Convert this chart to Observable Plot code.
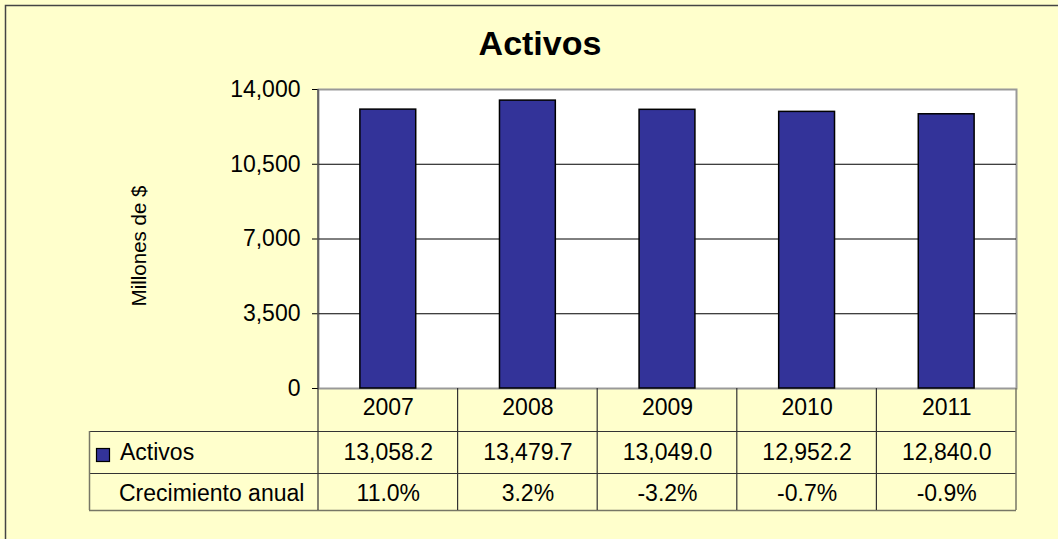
<!DOCTYPE html>
<html><head><meta charset="utf-8">
<script src="https://cdn.jsdelivr.net/npm/d3@7"></script>
<script src="https://cdn.jsdelivr.net/npm/@observablehq/plot@0.6"></script>
<style>
html,body{margin:0;padding:0;background:#FFFFCC;}
#chart{position:relative;width:1058px;height:539px;overflow:hidden;}
</style></head><body><div id="chart"></div>
<script>
const years = ["2007", "2008", "2009", "2010", "2011"];
const activos = [13058.2, 13479.7, 13049.0, 12952.2, 12840.0];
const crecimiento = [11.0, 3.2, -3.2, -0.7, -0.9];
const yTicks = [0, 3500, 7000, 10500, 14000];
const gridTicks = [3500, 7000, 10500];
const title = "Activos";
const yLabel = "Millones de $";
const seriesName = "Activos";
const growthName = "Crecimiento anual";

const rows = years.map((y, i) => ({year: y, value: activos[i], growth: crecimiento[i]}));
const FONT = "'Liberation Sans', Arial, sans-serif";
const fmtVal = d3.format(",.1f");
const fmtTick = d3.format(",");
const fmtPct = v => v.toFixed(1) + "%";

const W = 1058, H = 539, L = 318, R = 1016, T = 89, B = 388;
const FS = 23;

const chart = Plot.plot({
  width: W, height: H,
  marginLeft: L, marginRight: W - R, marginTop: T, marginBottom: H - B,
  style: {background: "#FFFFCC", fontFamily: FONT, fontSize: FS + "px", color: "#000", overflow: "visible"},
  x: {domain: years, paddingInner: 0.6, paddingOuter: 0.3, round: false, axis: null},
  y: {domain: [0, 14000], axis: null},
  marks: [
    Plot.frame({fill: "white", stroke: "#999", strokeWidth: 2}),
    Plot.ruleY(gridTicks, {stroke: "black", strokeWidth: 1}),
    Plot.barY(rows, {x: "year", y: "value", fill: "#333399", stroke: "black", strokeWidth: 1.5}),
    Plot.axisY({ticks: yTicks, tickFormat: fmtTick, tickSize: 6, tickPadding: 12, fontSize: FS, label: null}),
    Plot.text(rows, {x: "year", text: "year", frameAnchor: "bottom", lineAnchor: "middle", dy: 19, fontSize: FS, fill: "black"}),
    Plot.text(rows, {x: "year", text: d => fmtVal(d.value), frameAnchor: "bottom", lineAnchor: "middle", dy: 64, fontSize: FS, fill: "black"}),
    Plot.text(rows, {x: "year", text: d => fmtPct(d.growth), frameAnchor: "bottom", lineAnchor: "middle", dy: 105, fontSize: FS, fill: "black"})
  ]
});
document.getElementById("chart").appendChild(chart);

const svg = d3.select(chart);
const xs = chart.scale("x");
const step = xs.step, bw = xs.bandwidth;
const cellLeft = years.map(y => xs.apply(y) - (step - bw) / 2);
const tableRight = cellLeft[cellLeft.length - 1] + step;
const rowTop = [B, 431, 473, 510];
const tableLeft = 89;

// outer chart border (left & top)
const g = svg.append("g").attr("fill", "none");
g.append("path").attr("d", `M5.5,${H}V5.5H${W}`).attr("stroke", "#444").attr("stroke-width", 1.5);

// left axis line of plot area
g.append("line").attr("x1", L).attr("x2", L).attr("y1", T).attr("y2", B).attr("stroke", "#555").attr("stroke-width", 1.5);

// table grid
const dark = "#333", outer = "#777766";
g.append("line").attr("x1", tableLeft).attr("x2", tableRight).attr("y1", rowTop[1] + 0.5).attr("y2", rowTop[1] + 0.5).attr("stroke", dark);
g.append("line").attr("x1", tableLeft).attr("x2", tableRight).attr("y1", rowTop[2] + 0.5).attr("y2", rowTop[2] + 0.5).attr("stroke", dark);
g.append("line").attr("x1", tableLeft).attr("x2", tableRight).attr("y1", rowTop[3] + 0.5).attr("y2", rowTop[3] + 0.5).attr("stroke", outer).attr("stroke-width", 1.5);
g.append("line").attr("x1", tableLeft + 0.5).attr("x2", tableLeft + 0.5).attr("y1", rowTop[1]).attr("y2", rowTop[3]).attr("stroke", outer).attr("stroke-width", 1.5);
cellLeft.forEach(x => {
  g.append("line").attr("x1", x).attr("x2", x).attr("y1", B).attr("y2", rowTop[3]).attr("stroke", dark).attr("stroke-width", 1.2);
});
g.append("line").attr("x1", tableRight).attr("x2", tableRight).attr("y1", B).attr("y2", rowTop[3]).attr("stroke", outer).attr("stroke-width", 1.5);

// legend square + row labels
svg.append("rect").attr("x", 96.5).attr("y", 448.5).attr("width", 13).attr("height", 13)
  .attr("fill", "#333399").attr("stroke", "black").attr("stroke-width", 1.2);
svg.append("text").attr("x", 120).attr("y", 452).attr("dy", "0.35em").attr("text-anchor", "start")
  .attr("font-family", FONT).attr("font-size", FS).text(seriesName);
svg.append("text").attr("x", 119).attr("y", 493).attr("dy", "0.35em").attr("text-anchor", "start")
  .attr("font-family", FONT).attr("font-size", FS).text(growthName);

// title
svg.append("text").attr("x", 540).attr("y", 55).attr("text-anchor", "middle")
  .attr("font-family", FONT).attr("font-size", 34).attr("font-weight", "bold").text(title);

// y label
svg.append("text").attr("transform", "translate(146,246) rotate(-90)").attr("text-anchor", "middle")
  .attr("font-family", FONT).attr("font-size", 20.5).text(yLabel);
</script>
</body></html>
